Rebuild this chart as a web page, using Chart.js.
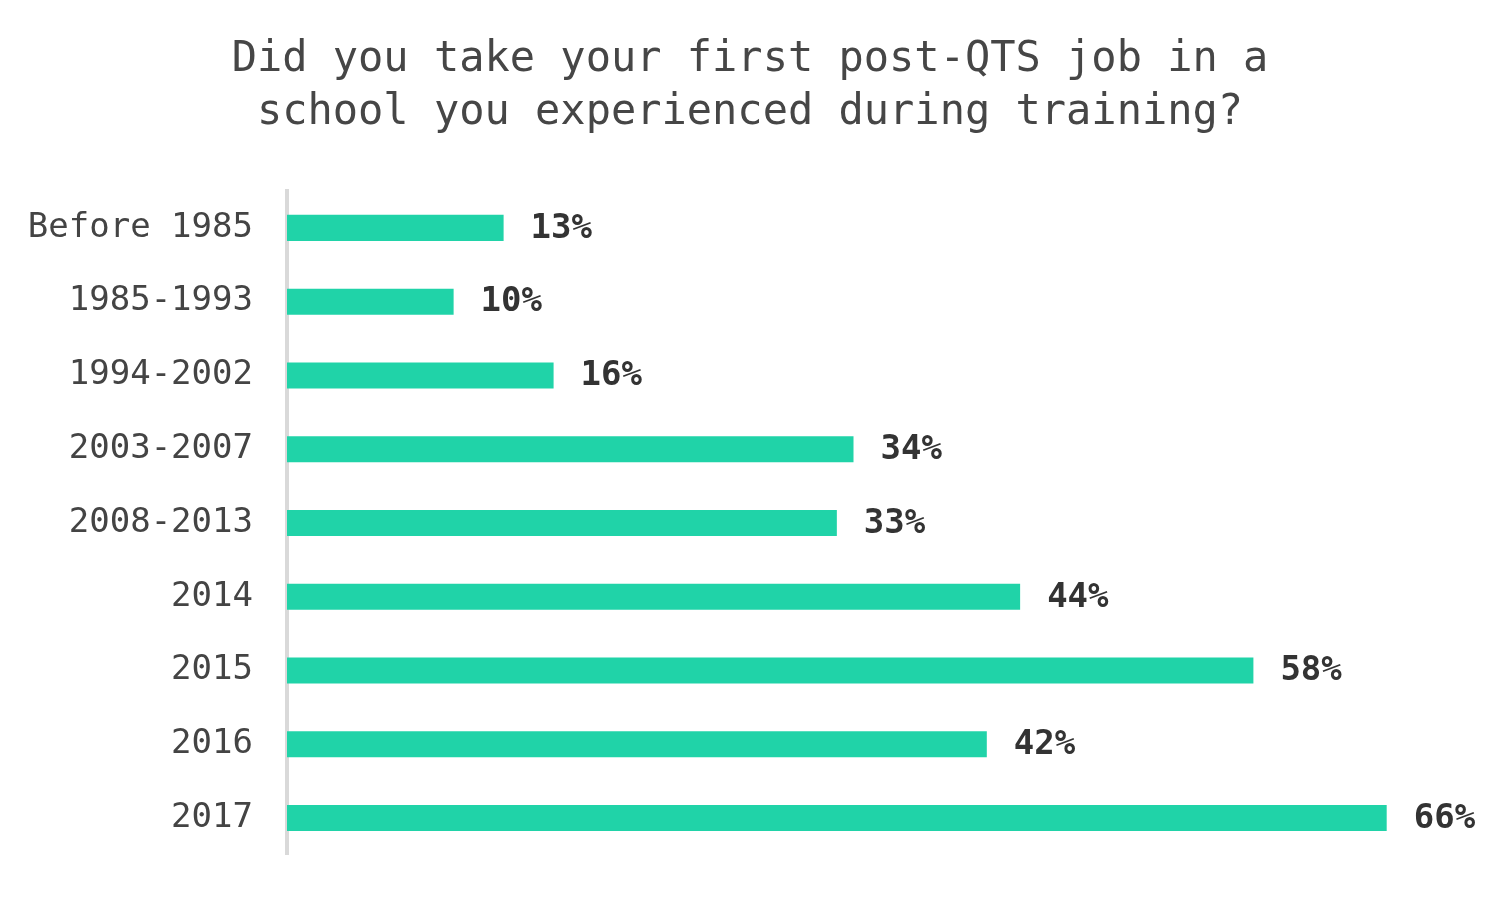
<!DOCTYPE html>
<html>
<head>
<meta charset="utf-8">
<script src="https://cdn.jsdelivr.net/npm/chart.js@4/dist/chart.umd.min.js"></script>
<style>
  html, body { margin: 0; padding: 0; background: #fff; }
  #wrap { width: 1500px; height: 900px; }
</style>
</head>
<body>
<div id="wrap"><canvas id="chart" width="1500" height="900"></canvas></div>
<script>
// categories and values
const periods = ['Before 1985', '1985-1993', '1994-2002', '2003-2007', '2008-2013', '2014', '2015', '2016', '2017'];
const sameSchoolPct = [13, 10, 16, 34, 33, 44, 58, 42, 66];
const titleLines = ['Did you take your first post-QTS job in a', 'school you experienced during training?'];

const monoFont = "'DejaVu Sans Mono', 'Liberation Mono', monospace";

// draws the "NN%" label just past the end of each bar
const valueLabels = {
    id: 'valueLabels',
    afterDatasetsDraw(chart) {
        const ctx = chart.ctx;
        const meta = chart.getDatasetMeta(0);
        ctx.save();
        ctx.font = 'bold 34px ' + monoFont;
        ctx.fillStyle = '#333333';
        ctx.textAlign = 'left';
        ctx.textBaseline = 'middle';
        meta.data.forEach((bar, i) => {
            ctx.fillText(sameSchoolPct[i] + '%', bar.x + 27, bar.y + 1);
        });
        ctx.restore();
    }
};

new Chart(document.getElementById('chart'), {
    type: 'bar',
    data: {
        labels: periods,
        datasets: [{
            data: sameSchoolPct,
            backgroundColor: '#20d3a8',
            borderWidth: 0,
            categoryPercentage: 1,
            barPercentage: 0.353
        }]
    },
    options: {
        indexAxis: 'y',
        responsive: false,
        animation: false,
        layout: {
            padding: { left: 0, right: 0, top: 0, bottom: 0 }
        },
        plugins: {
            legend: { display: false },
            tooltip: { enabled: false },
            title: {
                display: true,
                text: titleLines,
                color: '#464646',
                font: { family: monoFont, size: 42, weight: 'normal', lineHeight: 1.25 },
                padding: { top: 34, bottom: 52 }
            }
        },
        scales: {
            x: {
                display: false,
                min: 0,
                max: 72.8   // leaves room on the right for the 66% label
            },
            y: {
                afterFit(scale) { scale.width = 287; },
                grid: { display: false, drawTicks: false, tickLength: 0 },
                border: { display: true, color: '#d9d9d9', width: 4 },
                ticks: {
                    padding: 34,
                    color: '#444444',
                    // small lineHeight only trims the bottom padding the axis reserves
                    font: { family: monoFont, size: 34, lineHeight: 0.65 }
                }
            }
        }
    },
    plugins: [valueLabels]
});
</script>
</body>
</html>
